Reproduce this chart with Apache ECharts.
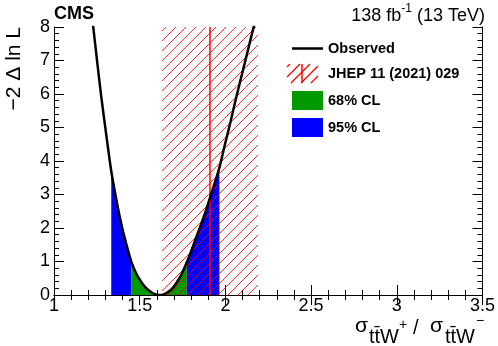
<!DOCTYPE html>
<html>
<head>
<meta charset="utf-8">
<script src="https://cdn.jsdelivr.net/npm/echarts@6/dist/echarts.min.js"></script>
<style>
html, body { margin: 0; padding: 0; background: #fff; }
#main { width: 498px; height: 346px; }
</style>
</head>
<body>
<div id="main"></div>
<script>
// observed likelihood scan
var obsX = [1.21, 1.229, 1.25, 1.277, 1.305, 1.334, 1.36, 1.383, 1.41, 1.452, 1.48, 1.508, 1.535, 1.566, 1.59, 1.614,
  1.64, 1.66, 1.682, 1.71, 1.74, 1.775, 1.80, 1.827, 1.85, 1.875, 1.90, 1.93, 1.965, 2.00, 2.03, 2.06, 2.09, 2.12, 2.145, 2.165, 2.19];
var obsY = [8.9, 8.0, 7.05, 5.87, 4.78, 3.70, 2.95, 2.35, 1.75, 0.98, 0.64, 0.40, 0.22, 0.09, 0.025, 0.0,
  0.02, 0.07, 0.15, 0.33, 0.58, 0.98, 1.30, 1.68, 2.00, 2.35, 2.74, 3.22, 3.80, 4.55, 5.17, 5.83, 6.45, 7.07, 7.59, 8.0, 8.5];
var cl68 = [1.452, 1.775];
var cl95 = [1.334, 1.965];
var jhepBand = [1.63, 2.19];
var jhepVal = [1.91];
var xRange = [1, 3.5];
var yRange = [0, 8];

var FONT = "'Liberation Sans', Arial, sans-serif";

function pick(lo, hi) {
  var out = [];
  obsX.forEach(function (x, i) {
    if (x >= lo - 1e-9 && x <= hi + 1e-9) out.push([x, obsY[i]]);
  });
  return out;
}

// "/" hatch lines (x + y = const) clipped to a pixel box
function hatchLines(L, T, R, B, off, color, w, z) {
  var out = [];
  for (var k = L + T + off; k <= R + B; k += 10) {
    var xa = Math.max(L, k - B), xb = Math.min(R, k - T);
    if (xb <= xa) continue;
    out.push({ type: 'line', z: z || 0, shape: { x1: xa, y1: k - xa, x2: xb, y2: k - xb }, style: { stroke: color, lineWidth: w } });
  }
  return out;
}

function band(name, color, lo, hi) {
  return {
    type: 'line', name: name, data: pick(lo, hi), smooth: 0.3, symbol: 'none',
    lineStyle: { width: 0 }, itemStyle: { color: color }, color: color,
    areaStyle: { color: color, opacity: 1 }, z: 1, silent: true
  };
}

var frameAxis = {
  axisLine: { lineStyle: { color: '#000', width: 1 } },
  axisTick: { inside: true, length: 10, lineStyle: { color: '#000' } },
  minorTick: { show: true, splitNumber: 5, length: 5, lineStyle: { color: '#000' } },
  splitLine: { show: false }
};

var chart = echarts.init(document.getElementById('main'));
chart.setOption({
  animation: false,
  grid: { left: 54, right: 13, top: 27, bottom: 51 },
  xAxis: [
    Object.assign({
      type: 'value', min: xRange[0], max: xRange[1], interval: 0.5, position: 'bottom',
      axisLabel: { color: '#000', fontSize: 18, fontFamily: FONT, margin: 2, showMinLabel: true, showMaxLabel: true }
    }, frameAxis),
    Object.assign({
      type: 'value', min: xRange[0], max: xRange[1], interval: 0.5, position: 'top',
      axisLabel: { show: false }
    }, frameAxis)
  ],
  yAxis: [
    Object.assign({
      type: 'value', min: yRange[0], max: yRange[1], interval: 1, position: 'left',
      axisLabel: { color: '#000', fontSize: 18, fontFamily: FONT, margin: 4 }
    }, frameAxis),
    Object.assign({
      type: 'value', min: yRange[0], max: yRange[1], interval: 1, position: 'right',
      axisLabel: { show: false }
    }, frameAxis)
  ],
  legend: {
    orient: 'vertical', left: 287, top: 36, itemWidth: 31, itemHeight: 19, itemGap: 8,
    textStyle: { color: '#000', fontSize: 14.5, fontWeight: 'bold', fontFamily: FONT },
    data: [
      { name: 'Observed', icon: 'path://M0 0H31V2.5H0Z' },
      { name: 'JHEP 11 (2021) 029', icon: 'path://M0 0H31V19H0Z', itemStyle: { color: 'rgba(255,255,255,0)' } },
      { name: '68% CL', icon: 'rect' },
      { name: '95% CL', icon: 'rect' }
    ]
  },
  series: [
    band('95% CL', '#0000ff', cl95[0], cl68[0]),
    band('68% CL', '#009900', cl68[0], cl68[1]),
    band('95% CL', '#0000ff', cl68[1], cl95[1]),
    {
      type: 'custom', name: 'JHEP 11 (2021) 029', z: 3, silent: true,
      itemStyle: { color: '#ff0000' },
      data: [[jhepBand[0], jhepBand[1], jhepVal[0]]],
      renderItem: function (params, api) {
        var a = api.coord([api.value(0), yRange[1]]);
        var b = api.coord([api.value(1), yRange[0]]);
        var c = api.coord([api.value(2), yRange[0]]);
        var kids = hatchLines(a[0], a[1], b[0], b[1], 4, 'rgba(255,0,0,0.8)', 1);
        kids.push({ type: 'line', shape: { x1: c[0], y1: a[1], x2: c[0], y2: b[1] }, style: { stroke: '#ff0000', lineWidth: 1.5 } });
        return { type: 'group', children: kids };
      }
    },
    {
      type: 'line', name: 'Observed', data: obsX.map(function (x, i) { return [x, obsY[i]]; }),
      smooth: 0.3, symbol: 'none', z: 5, silent: true,
      lineStyle: { color: '#000', width: 2.5 }, itemStyle: { color: '#000' }
    }
  ],
  graphic: [
    { type: 'text', left: 54, top: 5, style: { text: 'CMS', font: 'bold 18px ' + FONT, fill: '#000' } },
    {
      type: 'text', right: 13, top: 3,
      style: {
        text: '{n|138 fb}{s|-1}{n| (13 TeV)}', fill: '#000',
        rich: {
          n: { fontSize: 18, fontFamily: FONT, lineHeight: 22, verticalAlign: 'bottom' },
          s: { fontSize: 12, fontFamily: FONT, lineHeight: 22, verticalAlign: 'top' }
        }
      }
    },
    {
      type: 'text', x: 14, y: 27, rotation: Math.PI / 2,
      style: { text: '\u22122 \u0394 ln L', font: '21px ' + FONT, fill: '#000', textAlign: 'right', textVerticalAlign: 'middle' }
    },
    { type: 'text', x: 355, y: 326, style: { text: '\u03c3', font: '21px ' + FONT, fill: '#000', textVerticalAlign: 'middle' } },
    { type: 'text', x: 369, y: 337, style: { text: 'tt\u0304W', font: '20px ' + FONT, fill: '#000', textVerticalAlign: 'middle' } },
    { type: 'text', x: 399, y: 325, style: { text: '+', font: '14px ' + FONT, fill: '#000', textVerticalAlign: 'middle' } },
    { type: 'text', x: 413, y: 328, style: { text: '/', font: '20px ' + FONT, fill: '#000', textVerticalAlign: 'middle' } },
    { type: 'text', x: 430, y: 326, style: { text: '\u03c3', font: '21px ' + FONT, fill: '#000', textVerticalAlign: 'middle' } },
    { type: 'text', x: 445, y: 337, style: { text: 'tt\u0304W', font: '20px ' + FONT, fill: '#000', textVerticalAlign: 'middle' } },
    { type: 'text', x: 476, y: 321, style: { text: '\u2212', font: '14px ' + FONT, fill: '#000', textVerticalAlign: 'middle' } }
  ].concat(
    // hatched key with red marker for the JHEP legend entry
    hatchLines(287, 64, 318, 83, 3, '#ff0000', 1.3, 100),
    [{ type: 'line', z: 101, shape: { x1: 302, y1: 64, x2: 302, y2: 83 }, style: { stroke: '#ff0000', lineWidth: 1.5 } }]
  )
});
</script>
</body>
</html>
